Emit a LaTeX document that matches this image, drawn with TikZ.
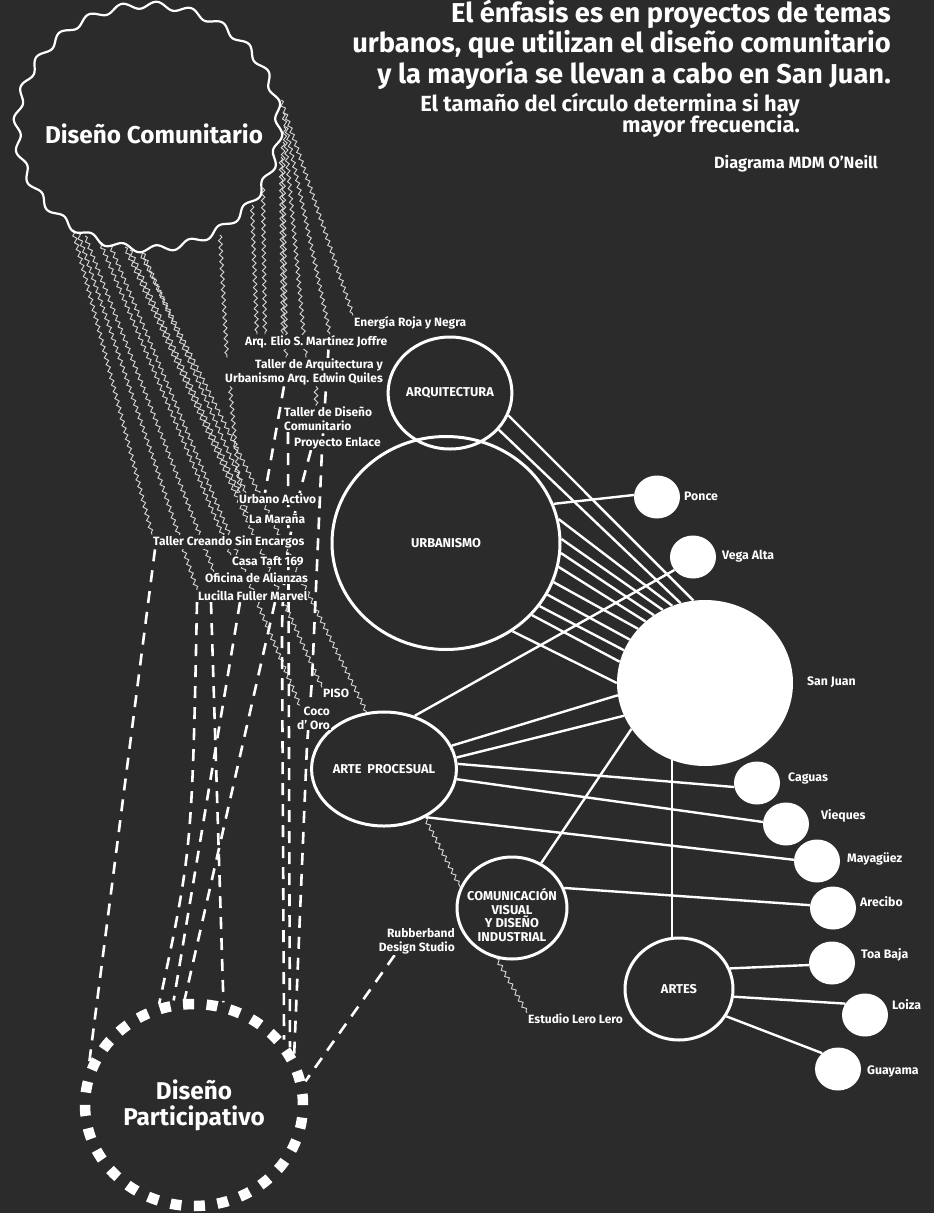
\documentclass[tikz,border=0pt]{standalone}
\usepackage{fontspec}
\setmainfont{Fira Sans}
\usetikzlibrary{shapes.geometric,decorations.pathmorphing,calc}
\definecolor{bgc}{HTML}{2B2B2B}
\definecolor{wvc}{HTML}{D6D6D6}
\pgfdeclarelayer{back}
\pgfdeclarelayer{lines}
\pgfsetlayers{back,lines,main}
\begin{document}
\begin{tikzpicture}[x=1pt,y=-1pt,
  lbl/.style={fill=bgc, text=white, inner sep=1pt, font=\fontsize{12}{14}\selectfont\bfseries},
  cat/.style={ellipse, draw=white, line width=3pt, text=white, inner sep=0pt, font=\fontsize{12.8}{13.5}\selectfont\bfseries, align=center},
  city/.style={ellipse, fill=white, inner sep=0pt, minimum width=46pt, minimum height=43pt},
  citylbl/.style={text=white, inner sep=0pt, font=\fontsize{12.3}{14}\selectfont\bfseries},
  conn/.style={white, line width=2.4pt},
  wavy/.style={draw=wvc, line width=0.9pt, decorate, decoration={snake, amplitude=1.8pt, segment length=7pt}},
  dashln/.style={white, line width=2.6pt, dash pattern=on 12pt off 9pt},
  hdr/.style={text=white, inner sep=0pt, font=\fontsize{27.3}{31}\selectfont\bfseries},
  sub/.style={text=white, inner sep=0pt, font=\fontsize{21.9}{25}\selectfont\bfseries},
  credit/.style={text=white, inner sep=0pt, font=\fontsize{16.3}{18}\selectfont\bfseries}
]
\useasboundingbox (0,0) rectangle (934,1213);
\begin{pgfonlayer}{back}
\fill[bgc] (0,0) rectangle (934,1213);
\end{pgfonlayer}

% header
\node[hdr, anchor=base east] (t1) at (891,22) {El énfasis es en proyectos de temas};
\node[hdr, anchor=base east] (t2) at (891,52) {urbanos, que utilizan el diseño comunitario};
\node[hdr, anchor=base east] (t3) at (891,83) {y la mayoría se llevan a cabo en San Juan.};
\node[sub, anchor=base east] (t4) at (800,111) {El tamaño del círculo determina si hay};
\node[sub, anchor=base east] (t5) at (800,132) {mayor frecuencia.};
\node[credit, anchor=base east] (t6) at (878,168) {Diagrama MDM O’Neill};

% Diseño Comunitario
\draw[white, line width=2.2pt] plot[domain=0:360, samples=500] ({148+(131+3.5*sin(24*\x))*cos(\x)}, {127+(122+3.5*sin(24*\x))*sin(\x)}) -- cycle;
\node[text=white, inner sep=0pt, font=\fontsize{24.3}{26}\selectfont\bfseries] (dc) at (154,134) {Diseño Comunitario};

% Diseño Participativo
\node[ellipse, draw=white, line width=10.5pt, dash pattern=on 11pt off 12.57pt, minimum width=218pt, minimum height=202pt, inner sep=0pt, text=white, align=center, font=\fontsize{24.3}{26}\selectfont\bfseries] (dp) at (194,1105) {Diseño\\Participativo};

% categories
\node[cat, minimum width=118pt, minimum height=112pt] (arq) at (450,393) {ARQUITECTURA};
\node[cat, minimum width=228pt, minimum height=213pt] (urb) at (446,543) {URBANISMO};
\node[cat, minimum width=120pt, minimum height=114pt] (artep) at (384,769) {ARTE\hspace{0.45em}PROCESUAL};
\node[cat, minimum width=110pt, minimum height=102pt] (comv) at (512,908) {};
\node[cat, draw=none] (comvt) at (512,915) {COMUNICACIÓN\\VISUAL\\Y DISEÑO\\INDUSTRIAL};
\node[cat, minimum width=108pt, minimum height=102pt] (artes) at (679,989) {ARTES};

% cities
\node[city, minimum width=176pt, minimum height=166pt] (sj) at (705,683) {};
\node[city] (ponce) at (657,497) {};
\node[city] (vega) at (693,557) {};
\node[city] (caguas) at (757,783) {};
\node[city] (vieques) at (786,824) {};
\node[city] (maya) at (817,861) {};
\node[city] (arecibo) at (833,908) {};
\node[city] (toabaja) at (832,963) {};
\node[city] (loiza) at (865,1015) {};
\node[city] (guayama) at (838,1069) {};
\node[citylbl, anchor=west] (sjl) at (807,682) {San Juan};
\node[citylbl, anchor=west] (poncel) at (684,496) {Ponce};
\node[citylbl, anchor=west] (vegal) at (722,556) {Vega Alta};
\node[citylbl, anchor=west] (cagual) at (788,778) {Caguas};
\node[citylbl, anchor=west] (viequesl) at (821,816) {Vieques};
\node[citylbl, anchor=west] (mayal) at (847,859) {Mayagüez};
\node[citylbl, anchor=west] (arecibol) at (860,902) {Arecibo};
\node[citylbl, anchor=west] (toabajal) at (861,955) {Toa Baja};
\node[citylbl, anchor=west] (loizal) at (892,1005) {Loiza};
\node[citylbl, anchor=west] (guayamal) at (867,1071) {Guayama};

% project labels
\node[lbl, anchor=west] (energia) at (353,323) {Energía Roja y Negra};
\node[lbl, anchor=west] (arqelio) at (244,342) {Arq. Elio S. Martínez Joffre};
\node[lbl, anchor=east, align=right] (tallerarq) at (384,372) {Taller de Arquitectura y\\Urbanismo Arq. Edwin Quiles};
\node[lbl, anchor=west, align=left] (tallerdis) at (283,419) {Taller de Diseño\\Comunitario};
\node[lbl, anchor=west] (proyecto) at (293,443) {Proyecto Enlace};
\node[lbl, anchor=west] (urbanoact) at (238,499) {Urbano Activo};
\node[lbl, anchor=west] (maranya) at (248,519) {La Maraña};
\node[lbl, anchor=west] (tallercre) at (152,542) {Taller Creando Sin Encargos};
\node[lbl, anchor=west] (casataft) at (231,561) {Casa Taft 169};
\node[lbl, anchor=west] (oficina) at (204,578) {Oficina de Alianzas};
\node[lbl, anchor=west] (lucilla) at (197,596) {Lucilla Fuller Marvel};
\node[lbl, anchor=west] (piso) at (322,693) {PISO};
\node[lbl, anchor=east, align=right] (coco) at (331,718) {Coco\\d’ Oro};
\node[lbl, anchor=east, align=right] (rubber) at (456,941) {Rubberband\\Design Studio};
\node[lbl, anchor=west] (estudio) at (527,1019) {Estudio Lero Lero};

\begin{pgfonlayer}{lines}
% wavy start points on Diseño Comunitario
\coordinate (w1) at (281,100);
\coordinate (w2) at (283,113);
\coordinate (w3) at (284,127);
\coordinate (w4) at (283,142);
\coordinate (w5) at (281,157);
\coordinate (w6) at (263,188);
\coordinate (w7) at (252,205);
\coordinate (w8) at (220,235);
\coordinate (b1) at (73,230);
\coordinate (b2) at (78,233);
\coordinate (b3) at (85,236);
\coordinate (b4) at (100,242);
\coordinate (b5) at (110,245);
\coordinate (b6) at (125,247);
\coordinate (b7) at (140,252);
\coordinate (b8) at (143,253);
\coordinate (b9) at (130,250);

\draw[wavy] (w1) -- (energia.north west);
\draw[wavy] (w2) -- ($(arqelio.north west)+(86,0)$);
\draw[wavy] (w3) -- ($(tallerarq.north west)+(82,0)$);
\draw[wavy] (w4) -- ($(tallerarq.north west)+(62,0)$);
\draw[wavy] (w5) -- ($(arqelio.north west)+(39,0)$);
\draw[wavy] (w6) -- ($(arqelio.north west)+(21,0)$);
\draw[wavy] (w7) -- ($(arqelio.north west)+(13,0)$);
\draw[wavy] (w8) -- ($(tallerarq.north west)+(3,0)$);
\draw[wavy] ($(tallerarq.south west)+(6,0)$) -- ($(urbanoact.north west)+(2,0)$);
\draw[wavy] ($(tallerarq.south east)+(-68,0)$) -- ($(tallerdis.north west)+(33,0)$);
\draw[wavy] (b1) -- (tallercre.north west);
\draw[wavy] (b2) -- (lucilla.north west);
\draw[wavy] (b3) -- ($(oficina.north west)+(10,0)$);
\draw[wavy] (b4) -- (casataft.north west);
\draw[wavy] (b5) -- ($(coco.north west)+(4,0)$);
\draw[wavy] (b6) -- (piso.north west);
\draw[wavy] (b7) -- (artep.107);
\draw[wavy] (b8) -- ($(urbanoact.north west)+(8,0)$);
\draw[wavy] (b9) -- (maranya.north west);
\draw[wavy] (artep.-50) -- (comv.158);
\draw[wavy] (comv.253) -- (estudio.north west);

% dashed lines to Diseño Participativo
\draw[dashln] ($(tallercre.south west)+(3,0)$) -- (dp.158);
\draw[dashln] (lucilla.south west) .. controls (192,850) .. (dp.109);
\draw[dashln] ($(lucilla.south west)+(14,0)$) -- (dp.74);
\draw[dashln] ($(lucilla.south west)+(43,0)$) -- (dp.101);
\draw[dashln] ($(lucilla.south west)+(78,0)$) -- (dp.95);
\draw[dashln] ($(tallerdis.south west)+(5,0)$) -- (dp.31);
\draw[dashln] ($(proyecto.south west)+(18,0)$) .. controls (292,520) and (282,560) .. (282,640) -- (dp.36);
\draw[dashln] ($(arqelio.south east)+(-60,0)$) -- (322,450) -- (312,680) -- (307,745) -- (dp.27);
\draw[dashln] ($(tallerarq.south west)+(60,0)$) -- ($(urbanoact.north west)+(27,0)$);
\draw[dashln] ($(rubber.south west)+(17,0)$) -- (dp.12);

% connectors
\draw[conn] (arq.-21) -- (sj.98);
\draw[conn] (arq.-37) -- (sj.107);
\draw[conn] (urb.20) -- (ponce.175);
\draw[conn] (urb.12) -- (sj.113);
\draw[conn] (urb.2) -- (sj.120);
\draw[conn] (urb.-5) -- (sj.127);
\draw[conn] (urb.-12) -- (sj.134);
\draw[conn] (urb.-20) -- (sj.141);
\draw[conn] (urb.-27) -- (sj.150);
\draw[conn] (urb.-34) -- (sj.158);
\draw[conn] (urb.-40) -- (sj.166);
\draw[conn] (urb.-53) -- (sj.180);
\draw[conn] (artep.60) -- (vega.215);
\draw[conn] (artep.19) -- (sj.188);
\draw[conn] (artep.9) -- (sj.202);
\draw[conn] (artep.4) -- (caguas.190);
\draw[conn] (artep.-8) -- (vieques.175);
\draw[conn] (artep.-49) -- (maya.177);
\draw[conn] (comv.57) -- (sj.212);
\draw[conn] (comv.21) -- (arecibo.173);
\draw[conn] (sj.247) -- (sj.247 |- artes.north);
\draw[conn] (artes.22) -- (toabaja.185);
\draw[conn] (artes.-8) -- (loiza.150);
\draw[conn] (artes.-30) -- (guayama.135);
\end{pgfonlayer}
\end{tikzpicture}
\end{document}
